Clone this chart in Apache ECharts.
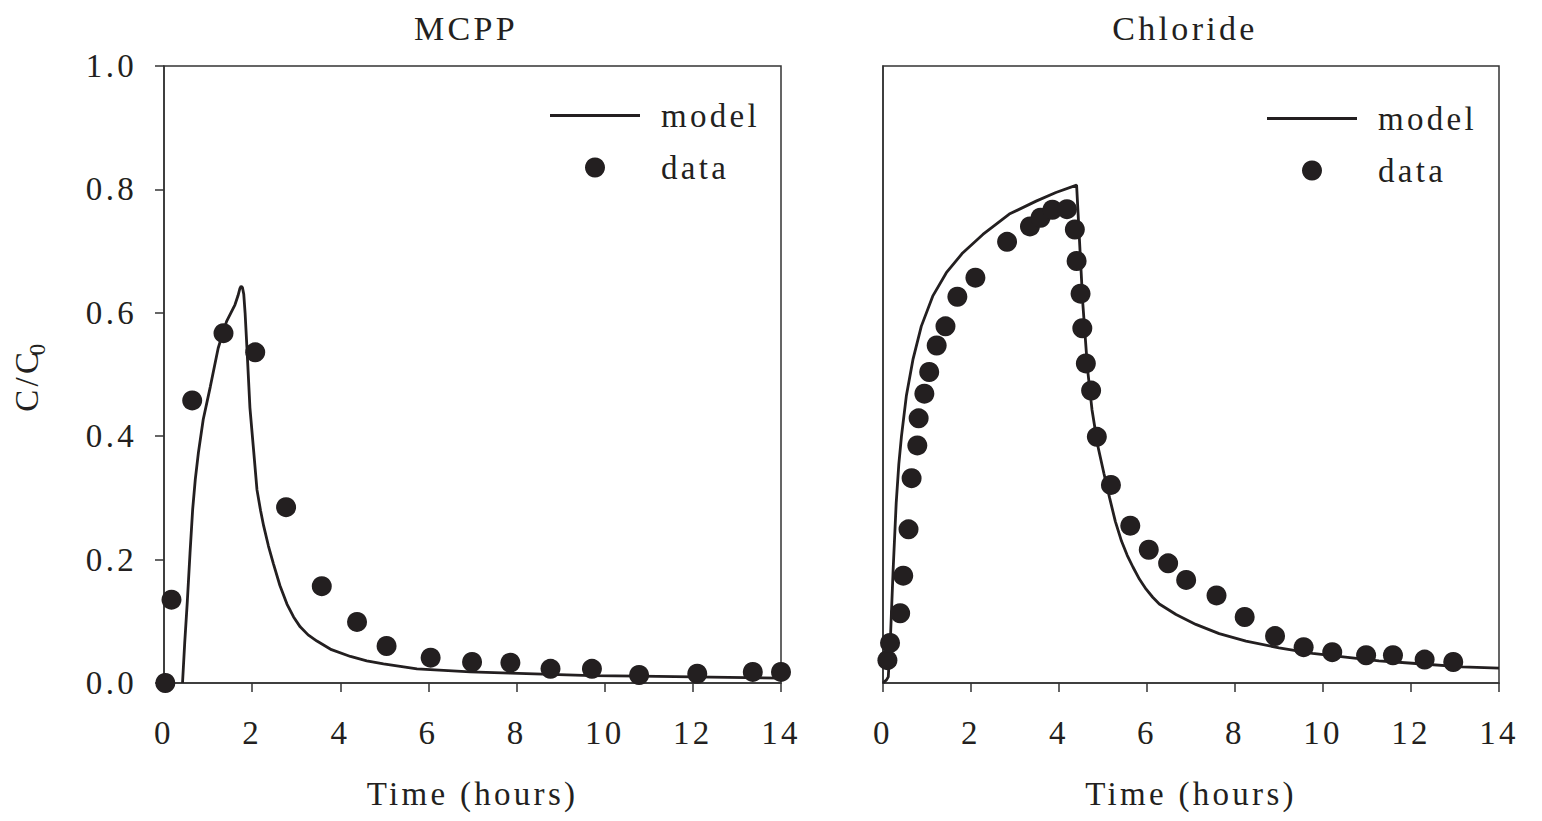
<!DOCTYPE html>
<html>
<head>
<meta charset="utf-8">
<script src="https://cdn.jsdelivr.net/npm/echarts@6/dist/echarts.min.js"></script>
<style>
  html, body { margin: 0; padding: 0; background: #ffffff; }
  #chart { width: 1542px; height: 821px; letter-spacing: 3.3px; }
</style>
</head>
<body>
<div id="chart"></div>
<script>
// ---- data ----
const panelTitles = ['MCPP', 'Chloride'];
const xTickLabels = ['0', '2', '4', '6', '8', '10', '12', '14'];
const yTickLabels = ['0.0', '0.2', '0.4', '0.6', '0.8', '1.0'];

const mcppDataT = [0.03, 0.17, 0.64, 1.35, 2.07, 2.77, 3.58, 4.38, 5.05, 6.05, 6.99, 7.86, 8.77, 9.71, 10.78, 12.1, 13.36, 14.0];
const mcppDataV = [0.0, 0.135, 0.458, 0.567, 0.536, 0.285, 0.157, 0.099, 0.060, 0.041, 0.034, 0.033, 0.023, 0.023, 0.013, 0.015, 0.018, 0.018];

const mcppModelT = [0.42, 0.47, 0.53, 0.59, 0.65, 0.71, 0.78, 0.89, 1.05, 1.23, 1.42, 1.61, 1.68, 1.72, 1.75, 1.78, 1.81, 1.84, 1.88, 1.95, 2.03, 2.11, 2.19, 2.26, 2.37, 2.48, 2.63, 2.79, 2.94, 3.09, 3.27, 3.47, 3.80, 4.23, 4.60, 4.98, 5.74, 6.95, 7.86, 8.77, 9.7, 10.78, 12.0, 14.0];
const mcppModelV = [0.0, 0.065, 0.133, 0.21, 0.281, 0.33, 0.373, 0.427, 0.48, 0.543, 0.586, 0.613, 0.628, 0.639, 0.643, 0.641, 0.63, 0.60, 0.546, 0.446, 0.38, 0.313, 0.28, 0.255, 0.222, 0.194, 0.158, 0.128, 0.107, 0.091, 0.078, 0.068, 0.054, 0.043, 0.036, 0.031, 0.023, 0.018, 0.016, 0.014, 0.012, 0.011, 0.010, 0.008];

const clDataT = [0.10, 0.16, 0.39, 0.46, 0.58, 0.65, 0.78, 0.81, 0.94, 1.05, 1.22, 1.42, 1.69, 2.10, 2.82, 3.34, 3.58, 3.85, 4.18, 4.36, 4.40, 4.49, 4.53, 4.61, 4.73, 4.86, 5.18, 5.62, 6.04, 6.48, 6.89, 7.58, 8.22, 8.91, 9.56, 10.21, 10.98, 11.59, 12.31, 12.96];
const clDataV = [0.037, 0.065, 0.113, 0.174, 0.249, 0.332, 0.385, 0.429, 0.469, 0.504, 0.547, 0.578, 0.626, 0.657, 0.715, 0.740, 0.754, 0.767, 0.768, 0.735, 0.684, 0.631, 0.575, 0.518, 0.474, 0.399, 0.321, 0.255, 0.216, 0.194, 0.167, 0.142, 0.107, 0.076, 0.058, 0.050, 0.045, 0.045, 0.038, 0.034];

const clModelT = [0.0, 0.08, 0.12, 0.17, 0.23, 0.30, 0.36, 0.42, 0.53, 0.68, 0.87, 1.13, 1.44, 1.81, 2.27, 2.87, 3.48, 3.93, 4.40, 4.46, 4.54, 4.65, 4.75, 4.88, 5.02, 5.15, 5.28, 5.42, 5.55, 5.68, 5.83, 5.98, 6.13, 6.28, 6.66, 7.11, 7.64, 8.25, 9.00, 9.76, 10.51, 11.27, 12.03, 13.16, 14.0];
const clModelV = [0.0, 0.005, 0.01, 0.075, 0.183, 0.292, 0.355, 0.40, 0.465, 0.524, 0.578, 0.627, 0.665, 0.697, 0.727, 0.760, 0.781, 0.795, 0.807, 0.725, 0.616, 0.508, 0.443, 0.385, 0.34, 0.30, 0.262, 0.230, 0.207, 0.188, 0.168, 0.152, 0.139, 0.128, 0.111, 0.095, 0.080, 0.068, 0.057, 0.048, 0.042, 0.036, 0.032, 0.026, 0.024];

// ---- helpers ----
const pairs = (t, v) => t.map((x, i) => [x, v[i]]);
const FONT = "'Liberation Serif', 'Times New Roman', serif";
const INK = '#231f20';
const AX = '#333333';

function xAxisFor(gi) {
  return {
    gridIndex: gi, type: 'value', min: 0, max: 14, interval: 2,
    name: 'Time (hours)', nameLocation: 'middle', nameGap: 94,
    nameTextStyle: { fontFamily: FONT, fontSize: 33, color: INK },
    axisLine: { show: true, lineStyle: { color: AX, width: 1.5 } },
    axisTick: { show: true, inside: false, length: 9, lineStyle: { color: AX, width: 1.5 } },
    axisLabel: { margin: 33, fontFamily: FONT, fontSize: 33, color: INK,
      formatter: v => xTickLabels[Math.round(v / 2)] },
    splitLine: { show: false }
  };
}
function yAxisFor(gi, showLabels) {
  const ax = {
    gridIndex: gi, type: 'value', min: 0, max: 1, interval: 0.2,
    axisLine: { show: true, lineStyle: { color: AX, width: 1.5 } },
    axisTick: { show: showLabels, inside: false, length: 9, lineStyle: { color: AX, width: 1.5 } },
    axisLabel: { show: showLabels, margin: 27, fontFamily: FONT, fontSize: 33, color: INK,
      formatter: v => yTickLabels[Math.round(v / 0.2)] },
    splitLine: { show: false }
  };
  if (showLabels) {
    ax.name = '{a|C/C}{s|0}';
    ax.nameLocation = 'middle';
    ax.nameRotate = 90;
    ax.nameGap = 115;
    ax.nameTextStyle = {
      fontFamily: FONT, color: INK,
      rich: {
        a: { fontFamily: FONT, fontSize: 33, color: INK, lineHeight: 44, verticalAlign: 'middle' },
        s: { fontFamily: FONT, fontSize: 23, color: INK, lineHeight: 44, verticalAlign: 'bottom', padding: [16, 0, 0, 0] }
      }
    };
  }
  return ax;
}
function legendFor(left, top) {
  return {
    left: left, top: top, orient: 'vertical',
    itemWidth: 90, itemHeight: 20, itemGap: 19, padding: 0,
    selectedMode: false,
    textStyle: { fontFamily: FONT, fontSize: 33, color: INK, padding: [0, 0, 0, 16] },
    data: [
      { name: 'model', icon: 'path://M0,0 L90,0 L90,2.8 L0,2.8 Z', itemStyle: { color: INK, opacity: 1 } },
      { name: 'data', icon: 'circle', itemStyle: { color: INK, opacity: 1 } }
    ]
  };
}

const chart = echarts.init(document.getElementById('chart'), null, { renderer: 'svg' });
chart.setOption({
  animation: false,
  backgroundColor: '#ffffff',
  title: [
    { text: panelTitles[0], left: 461, top: 6, textAlign: 'center',
      textStyle: { fontFamily: FONT, fontSize: 34, fontWeight: 'normal', color: INK } },
    { text: panelTitles[1], left: 1180, top: 6, textAlign: 'center',
      textStyle: { fontFamily: FONT, fontSize: 34, fontWeight: 'normal', color: INK } }
  ],
  legend: [legendFor(550, 99), legendFor(1267, 102)],
  grid: [
    { left: 164, top: 66, width: 617, height: 617, show: true, borderColor: AX, borderWidth: 1.5, backgroundColor: 'transparent' },
    { left: 883, top: 66, width: 616, height: 617, show: true, borderColor: AX, borderWidth: 1.5, backgroundColor: 'transparent' }
  ],
  xAxis: [xAxisFor(0), xAxisFor(1)],
  yAxis: [yAxisFor(0, true), yAxisFor(1, false)],
  series: [
    { name: 'model', type: 'line', xAxisIndex: 0, yAxisIndex: 0, data: pairs(mcppModelT, mcppModelV),
      showSymbol: false, symbol: 'none', lineStyle: { color: INK, width: 2.8 }, itemStyle: { color: INK }, z: 2 },
    { name: 'data', type: 'scatter', xAxisIndex: 0, yAxisIndex: 0, data: pairs(mcppDataT, mcppDataV),
      symbol: 'circle', symbolSize: 20, itemStyle: { color: INK, opacity: 1 }, z: 3 },
    { name: 'model', type: 'line', xAxisIndex: 1, yAxisIndex: 1, data: pairs(clModelT, clModelV),
      showSymbol: false, symbol: 'none', lineStyle: { color: INK, width: 2.8 }, itemStyle: { color: INK }, z: 2 },
    { name: 'data', type: 'scatter', xAxisIndex: 1, yAxisIndex: 1, data: pairs(clDataT, clDataV),
      symbol: 'circle', symbolSize: 20, itemStyle: { color: INK, opacity: 1 }, z: 3 }
  ]
});
</script>
</body>
</html>
